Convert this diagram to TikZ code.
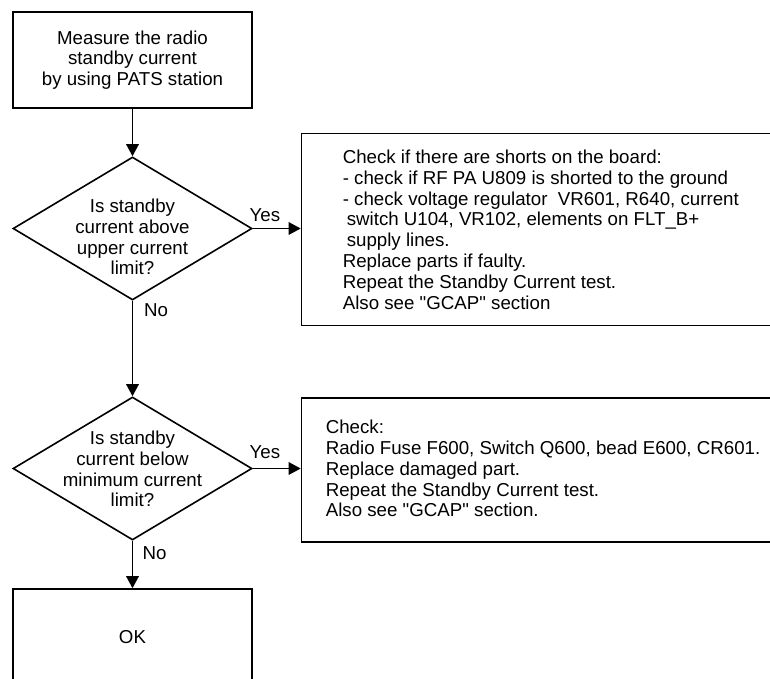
\documentclass[tikz,border=0pt]{standalone}
\usepackage{fontspec}
\setmainfont{Liberation Sans}
\usetikzlibrary{
    positioning,
    arrows.meta,
    shapes.geometric
}

\begin{document}
\begin{tikzpicture}[x=1pt, y=-1pt, line width=1.6pt,
    >={Triangle[length=12pt, width=12.5pt]},
    every node/.style={font=\fontsize{18.7pt}{20.8pt}\selectfont, inner sep=0pt},
    stepbox/.style={draw, rectangle, minimum width=239pt, minimum height=96pt, align=center},
    ask/.style={draw, diamond, minimum width=239pt, minimum height=143pt},
    notebox/.style={draw, rectangle, anchor=north west, minimum width=500pt}]
            \useasboundingbox (0,0) rectangle (770,679);
            \clip (0,0) rectangle (770,679);

            \node[stepbox] (M) at (132.5,60) {Measure the radio\\standby current\\by using PATS station};
            \node[ask] (Q1) at (132.5,228.5) {};
            \node[align=center] (Q1txt) at (132.5,237) {Is standby\\current above\\upper current\\limit?};
            \node[ask] (Q2) at (132.5,468.5) {};
            \node[align=center] (Q2txt) at (132.5,469) {Is standby\\current below\\minimum current\\limit?};
            \node[stepbox] (OK) at (132.5,637) {OK};

            \node[notebox, minimum height=191.8pt] (C1) at (300.7,132.7) {};
            \node[anchor=north west, align=left] (C1txt) at (342,149.1) {Check if there are shorts on the board:\\
                - check if RF PA U809 is shorted to the ground\\
                - check voltage regulator\ \ VR601, R640, current\\
                \hspace{4pt}switch U104, VR102, elements on FLT\_B+\\
                \hspace{4pt}supply lines.\\
                Replace parts if faulty.\\
                Repeat the Standby Current test.\\
                Also see \textquotedbl GCAP\textquotedbl{} section};
            \node[notebox, minimum height=144pt] (C2) at (300.7,397) {};
            \node[anchor=north west, align=left] (C2txt) at (325,419.4) {Check:\\
                Radio Fuse F600, Switch Q600, bead E600, CR601.\\
                Replace damaged part.\\
                Repeat the Standby Current test.\\
                Also see \textquotedbl GCAP\textquotedbl{} section.};

            \draw[->] (M) -- (Q1);
            \draw[->] (Q1.east) -- (Q1.east -| C1.west)
                node (yes1) [pos=0, anchor=base west, xshift=-4pt, yshift=6.6pt] {Yes};
            \draw[->] (Q1) -- (Q2)
                node (no1) [pos=0, anchor=north west, xshift=10.8pt, yshift=-1.6pt] {No};
            \draw[->] (Q2.east) -- (Q2.east -| C2.west)
                node (yes2) [pos=0, anchor=base west, xshift=-4pt, yshift=9.7pt] {Yes};
            \draw[->] (Q2) -- (OK)
                node (no2) [pos=0, anchor=north west, xshift=9.2pt, yshift=-4.6pt] {No};
        \end{tikzpicture}
\end{document}
